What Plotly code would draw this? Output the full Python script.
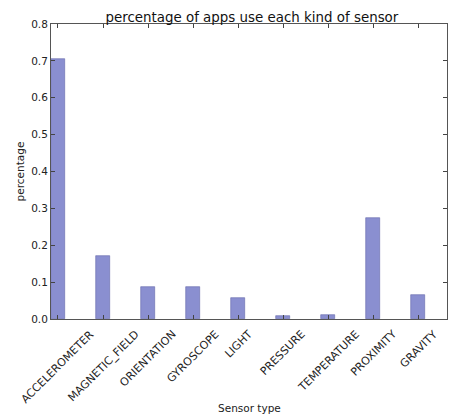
import plotly.graph_objects as go

sensors = ["ACCELEROMETER", "MAGNETIC_FIELD", "ORIENTATION", "GYROSCOPE", "LIGHT",
           "PRESSURE", "TEMPERATURE", "PROXIMITY", "GRAVITY"]
shares = [0.704, 0.171, 0.088, 0.088, 0.058, 0.008, 0.011, 0.273, 0.066]
y_ticks = [0.0, 0.1, 0.2, 0.3, 0.4, 0.5, 0.6, 0.7, 0.8]

positions = list(range(len(sensors)))
font = "DejaVu Sans, sans-serif"

fig = go.Figure(
    go.Bar(
        x=positions,
        y=shares,
        width=0.3,
        marker=dict(color="rgb(138,143,208)", line=dict(color="rgb(100,104,170)", width=0.6)),
    )
)

# Rotated category labels, centred under each tick
for pos, name in zip(positions, sensors):
    fig.add_annotation(
        x=pos, xref="x", y=0, yref="paper",
        text=name, showarrow=False, textangle=-45,
        xanchor="center", yanchor="top", yshift=-6,
        font=dict(size=11, family=font, color="#222"),
    )

fig.add_annotation(
    x=0.5, xref="paper", y=-89 / 295, yref="paper",
    text="Sensor type", showarrow=False,
    xanchor="center", yanchor="middle",
    font=dict(size=10.5, family=font, color="#222"),
)

fig.update_layout(
    width=449,
    height=418,
    margin=dict(l=51, r=2, t=24, b=99),
    paper_bgcolor="white",
    plot_bgcolor="white",
    showlegend=False,
    font=dict(family=font, color="#222", size=10),
    title=dict(
        text="percentage of apps use each kind of sensor",
        x=0.561, xanchor="center", y=0.958, yanchor="middle",
        font=dict(size=13.4, family=font, color="#111"),
    ),
    bargap=0,
)
fig.update_xaxes(
    range=[-0.155, 8.64],
    tickmode="array",
    tickvals=positions,
    showticklabels=False,
    ticks="inside",
    ticklen=4,
    tickcolor="#444",
    showline=True,
    linecolor="#555",
    linewidth=1,
    mirror="ticks",
    showgrid=False,
    zeroline=False,
)
fig.update_yaxes(
    range=[0, 0.8],
    tickmode="array",
    tickvals=y_ticks,
    ticktext=[f"{v:.1f}" for v in y_ticks],
    ticks="inside",
    ticklen=4,
    tickcolor="#444",
    showline=True,
    linecolor="#555",
    linewidth=1,
    mirror="ticks",
    showgrid=False,
    zeroline=False,
    tickfont=dict(size=10.5, family=font),
    title=dict(text="percentage", font=dict(size=10.5, family=font), standoff=4),
)

fig.write_html("out.html")
